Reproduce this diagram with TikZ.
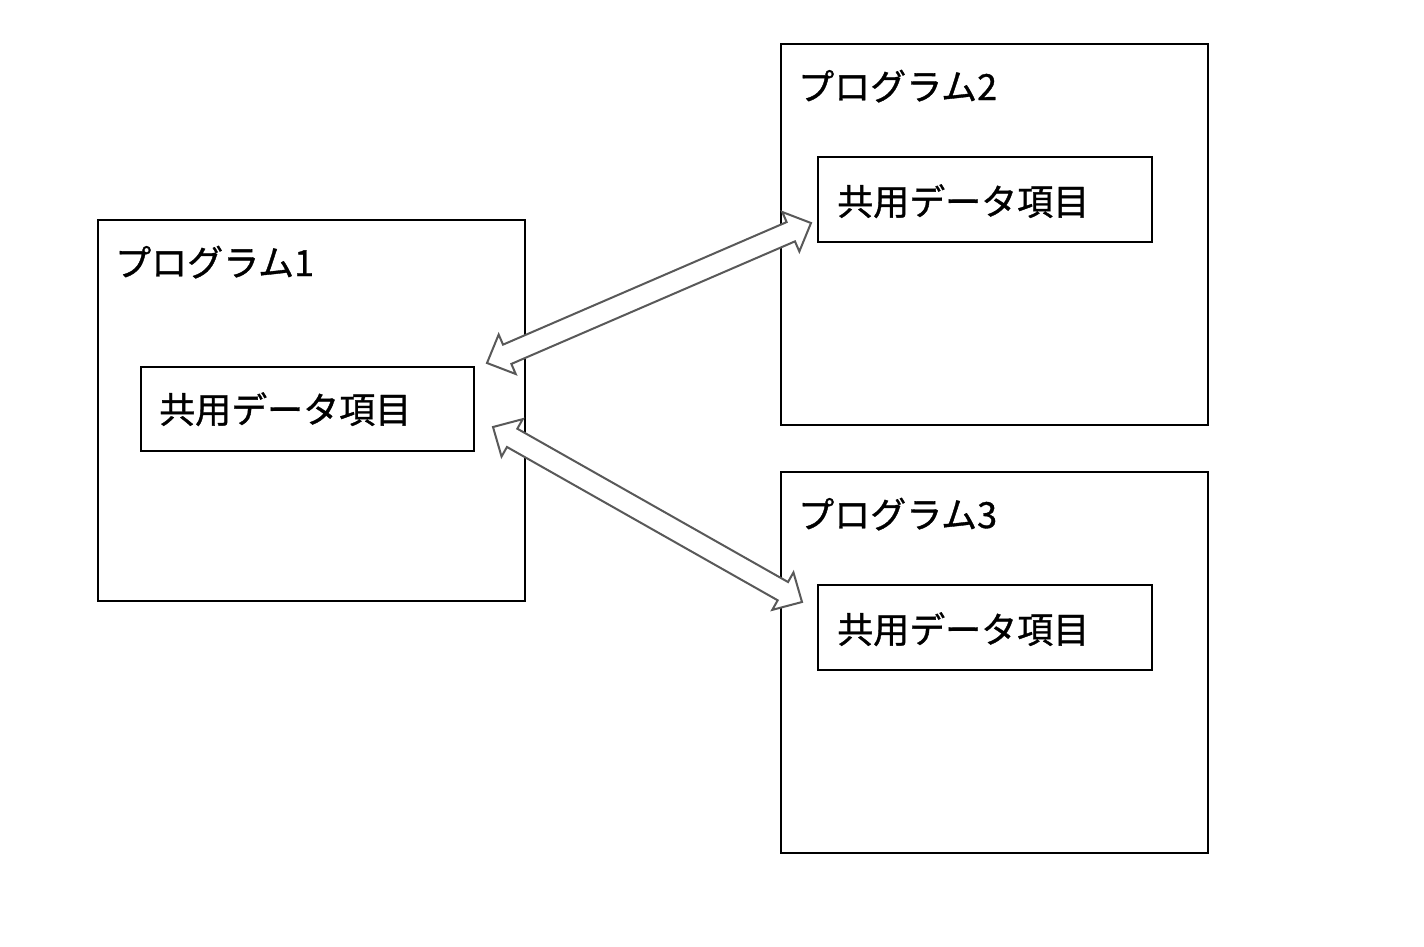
\documentclass[tikz,border=0pt]{standalone}
\usepackage{fontspec}
\newfontfamily\jpfont[FakeBold=1]{Noto Sans CJK JP}
\usetikzlibrary{calc}
\tikzset{
  progbox/.style={draw=black, line width=2pt, fill=white},
  databox/.style={draw=black, line width=2pt, fill=white},
  lbl/.style={inner sep=0pt, anchor=base west, font=\jpfont\fontsize{36}{40}\selectfont},
  blockarrow/.style={draw=black!65, line width=2pt, fill=white, line join=miter},
}
\newcommand{\dblarrow}[2]{%
  \coordinate (#1h) at ($(#1)!22pt!(#2)$);
  \coordinate (#2h) at ($(#2)!22pt!(#1)$);
  \draw[blockarrow] (#1)
    -- ($(#1h)!21.5pt!90:(#2)$) -- ($(#1h)!10.5pt!90:(#2)$)
    -- ($(#2h)!10.5pt!-90:(#1)$) -- ($(#2h)!21.5pt!-90:(#1)$)
    -- (#2)
    -- ($(#2h)!21.5pt!90:(#1)$) -- ($(#2h)!10.5pt!90:(#1)$)
    -- ($(#1h)!10.5pt!-90:(#2)$) -- ($(#1h)!21.5pt!-90:(#2)$)
    -- cycle;}
\begin{document}
\begin{tikzpicture}[x=1pt,y=-1pt]
\useasboundingbox (0,0) rectangle (1424,946);
% program 1
\draw[progbox] (98,220) rectangle (525,601);
\node[lbl] (p1) at (115,276) {プログラム1};
\draw[databox] (141,367) rectangle (474,451);
\node[lbl] (d1) at (159,423) {共用データ項目};
% program 2
\draw[progbox] (781,44) rectangle (1208,425);
\node[lbl] (p2) at (798,100) {プログラム2};
\draw[databox] (818,157) rectangle (1152,242);
\node[lbl] (d2) at (837,215) {共用データ項目};
% program 3
\draw[progbox] (781,472) rectangle (1208,853);
\node[lbl] (p3) at (798,528) {プログラム3};
\draw[databox] (818,585) rectangle (1152,670);
\node[lbl] (d3) at (837,643) {共用データ項目};
% arrows
\coordinate (a1) at (487,363);
\coordinate (b1) at (811,223);
\dblarrow{a1}{b1}
\coordinate (a2) at (493,427);
\coordinate (b2) at (802,602);
\dblarrow{a2}{b2}
\end{tikzpicture}
\end{document}
